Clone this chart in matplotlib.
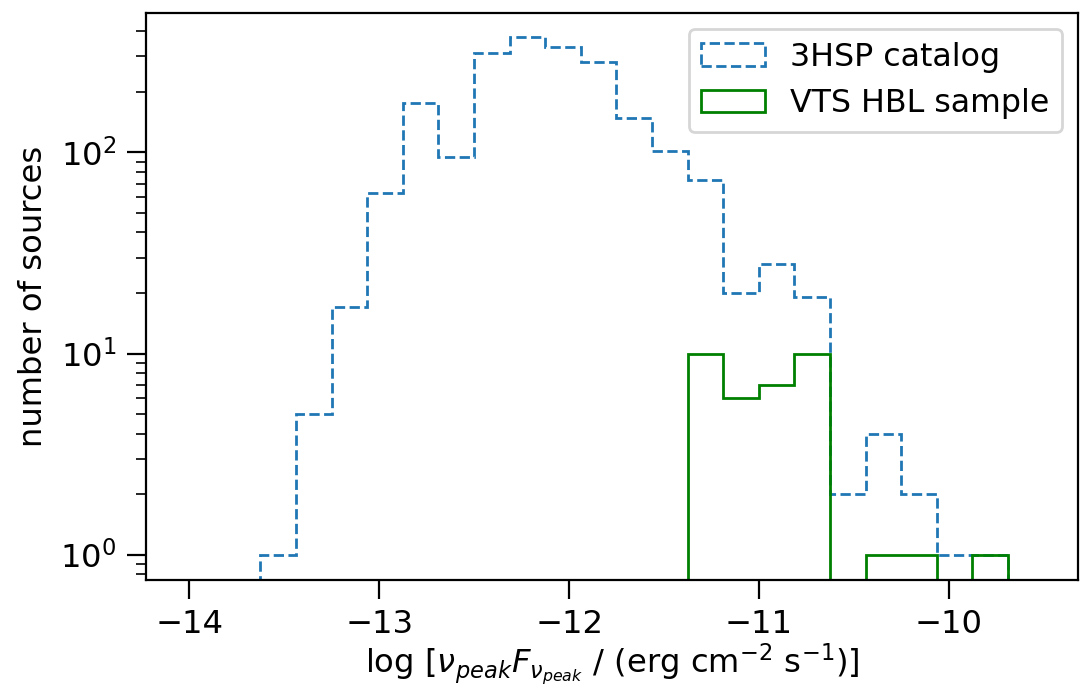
import numpy as np
import matplotlib
matplotlib.use('Agg')
import matplotlib.pyplot as plt

# bin edges shared by both histograms (log nuF_nu peak)
bin_lo = -13.626
bin_hi = -9.688
n_bins = 21

# counts per bin
counts_3hsp = [1, 5, 17, 63, 175, 95, 310, 373, 333, 280, 148,
               102, 73, 20, 28, 19, 2, 4, 2, 1, 1]
counts_vts = [0, 0, 0, 0, 0, 0, 0, 0, 0, 0, 0,
              0, 10, 6, 7, 10, 0, 1, 1, 0, 1]

edges = np.linspace(bin_lo, bin_hi, n_bins + 1)
centers = 0.5 * (edges[:-1] + edges[1:])

plt.rcParams['font.size'] = 11.6
plt.rcParams['xtick.major.size'] = 7
plt.rcParams['ytick.major.size'] = 7
plt.rcParams['xtick.minor.size'] = 3.5
plt.rcParams['ytick.minor.size'] = 3.5

fig, ax = plt.subplots(figsize=(5.4, 3.44), dpi=200)
ax.hist(centers, bins=edges, weights=counts_3hsp, histtype='step',
        linestyle='--', color='C0', log=True, label='3HSP catalog')
ax.hist(centers, bins=edges, weights=counts_vts, histtype='step',
        color='g', log=True, label='VTS HBL sample')

ax.set_xlim(-14.23, -9.32)
ax.set_ylim(0.75, 492)
ax.set_xlabel(r'log [$\nu_{peak}F_{\nu_{peak}}$ / (erg cm$^{-2}$ s$^{-1}$)]',
              labelpad=0.5)
ax.set_ylabel('number of sources')
ax.legend(loc='upper right', fontsize=11.4)

fig.subplots_adjust(left=0.135, right=0.998, bottom=0.157, top=0.981)
fig.savefig('out.png', dpi=200)
